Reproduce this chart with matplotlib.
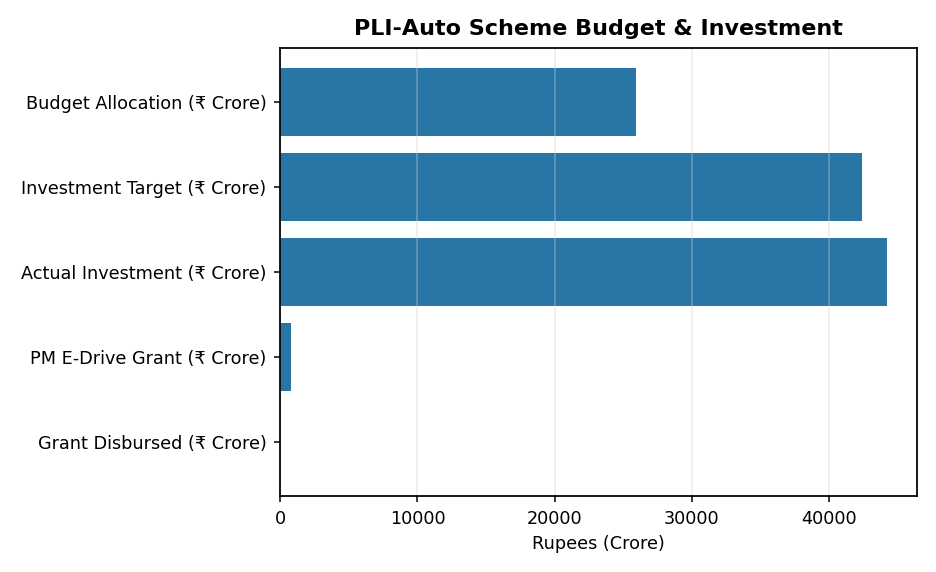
import matplotlib.pyplot as plt

categories = ['Budget Allocation (₹ Crore)', 'Investment Target (₹ Crore)',
              'Actual Investment (₹ Crore)', 'PM E-Drive Grant (₹ Crore)',
              'Grant Disbursed (₹ Crore)']
values = [25938, 42400, 44210, 780, 0]

fig = plt.figure(figsize=(9.36, 5.72), dpi=100)
ax = fig.add_axes([0.2995, 0.1329, 0.680, 0.7837])
ax.barh(categories, values, color='#2876a6')
ax.invert_yaxis()
ax.set_axisbelow(False)
ax.grid(True, axis='x', color='#d0d0d0', alpha=0.4, linewidth=1.2)
for sp in ax.spines.values():
    sp.set_linewidth(1.27)
    sp.set_zorder(3)
ax.tick_params(labelsize=12.7, length=4.5, width=1.1)
ax.tick_params(axis='y', pad=5.5)
ax.tick_params(axis='x', pad=5.5)
ax.set_xlabel('Rupees (Crore)', fontsize=12.7, labelpad=5)
ax.set_title('PLI-Auto Scheme Budget & Investment', fontsize=16, fontweight='bold', pad=9)
plt.savefig('out.png')
